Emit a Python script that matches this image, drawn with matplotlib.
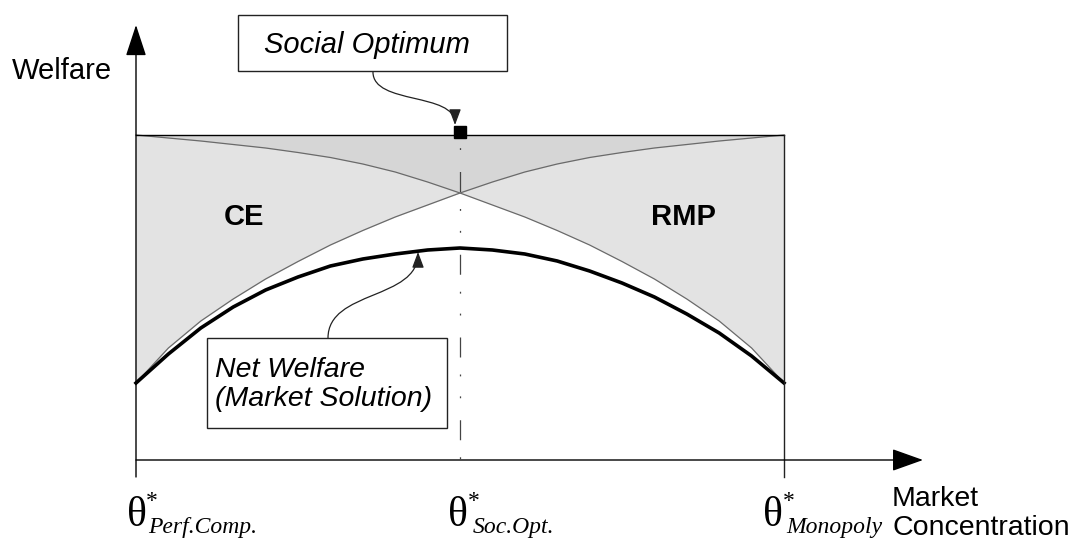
import matplotlib.pyplot as plt
import numpy as np
from matplotlib.patches import FancyArrowPatch, Rectangle
from matplotlib.path import Path

plt.rcParams['font.family'] = 'Liberation Sans'

# market concentration (0 = perfect competition, 1 = monopoly)
theta = [0.00, 0.05, 0.10, 0.15, 0.20, 0.25, 0.30, 0.35, 0.40, 0.45, 0.50,
         0.55, 0.60, 0.65, 0.70, 0.75, 0.80, 0.85, 0.90, 0.95, 1.00]
# boundary of the RMP area (falls with concentration)
rmp_curve = [3.25, 3.22, 3.19, 3.155, 3.12, 3.075, 3.025, 2.96, 2.88, 2.78, 2.67,
             2.55, 2.43, 2.295, 2.15, 1.985, 1.81, 1.61, 1.39, 1.12, 0.77]
# boundary of the CE area (rises with concentration)
ce_curve = rmp_curve[::-1]
# net welfare of the market solution
net_welfare = [0.77, 1.06, 1.32, 1.53, 1.70, 1.83, 1.94, 2.01, 2.06, 2.10, 2.12,
               2.10, 2.06, 1.99, 1.89, 1.77, 1.63, 1.46, 1.27, 1.04, 0.77]
top_welfare = 3.25

tick_pos = [0.0, 0.5, 1.0]
tick_sub = ['Perf.Comp.', 'Soc.Opt.', 'Monopoly']

fig = plt.figure(figsize=(10.76, 5.43), dpi=100)
ax = fig.add_axes([0, 0, 1, 1])
ax.set_xlim(-136 / 648, 940 / 648)
ax.set_ylim(-0.83, 4.60)
ax.axis('off')

top = np.full(len(theta), top_welfare)
ax.fill_between(theta, ce_curve, top, color='#e3e3e3', lw=0)
ax.fill_between(theta, rmp_curve, top, color='#e3e3e3', lw=0)
ax.fill_between(theta, np.maximum(ce_curve, rmp_curve), top, color='#d6d6d6', lw=0)

ax.plot(theta, ce_curve, color='#6a6a6a', lw=0.9)
ax.plot(theta, rmp_curve, color='#6a6a6a', lw=0.9)
ax.plot(theta, net_welfare, color='black', lw=2.6)
ax.plot([0, 1], [top_welfare, top_welfare], color='black', lw=1.0)

# frame verticals and social optimum marker
ax.plot([1, 1], [-0.17, top_welfare], color='#222222', lw=1.0)
ax.plot([0.5, 0.5], [top_welfare, -0.1], color='#444444', lw=0.9,
        linestyle=(37, (16, 13.6, 1.5, 16, 1.5, 17.6)))
ax.plot(0.5, top_welfare + 0.035, marker='s', ms=9, color='black')

# axes with arrow heads
ax.annotate('', xy=(0, 4.35), xytext=(0, -0.17),
            arrowprops=dict(arrowstyle='-|>,head_length=1.4,head_width=0.46',
                            mutation_scale=14, lw=1.0, color='black',
                            shrinkA=0, shrinkB=0))
ax.annotate('', xy=(1.2145, 0), xytext=(0, 0),
            arrowprops=dict(arrowstyle='-|>,head_length=1.4,head_width=0.5',
                            mutation_scale=14, lw=1.0, color='black',
                            shrinkA=0, shrinkB=0))

# labels
ax.text(-0.1914, 3.81, 'Welfare', fontsize=21, va='baseline')
ax.text(0.1659, 2.35, 'CE', fontsize=21, weight='bold', ha='center', va='baseline')
ax.text(0.8441, 2.35, 'RMP', fontsize=21, weight='bold', ha='center', va='baseline')
ax.text(1.1667, -0.46, 'Market', fontsize=20.5, va='baseline')
ax.text(1.1667, -0.75, 'Concentration', fontsize=20.5, va='baseline')

# theta* tick labels
theta_shift = [-0.014, -0.018, -0.032]
sub_shift = [0.018, 0.019, 0.003]
for pos, sub, ts, ss in zip(tick_pos, tick_sub, theta_shift, sub_shift):
    ax.text(pos + ts, -0.66, 'θ', fontsize=30, family='Liberation Serif', va='baseline')
    ax.text(pos + ts + 0.039, -0.47, '*', fontsize=17, family='Liberation Serif',
            ha='center', va='baseline')
    ax.text(pos + ss, -0.73, sub, fontsize=17, family='Liberation Serif',
            style='italic', va='baseline')

# Social Optimum callout
ax.add_patch(Rectangle((0.1574, 3.89), 0.4151, 0.56, facecolor='white',
                       edgecolor='#222222', lw=1.0))
ax.text(0.356, 4.067, 'Social Optimum', fontsize=21, style='italic',
        ha='center', va='baseline')
p = Path([(0.3657, 3.88), (0.3657, 3.55), (0.4923, 3.68), (0.4923, 3.35)],
         [Path.MOVETO, Path.CURVE4, Path.CURVE4, Path.CURVE4])
ax.add_patch(FancyArrowPatch(path=p, arrowstyle='-|>,head_length=0.8,head_width=0.3',
                             mutation_scale=12, color='#222222', lw=0.9))

# Net Welfare callout
ax.add_patch(Rectangle((0.1096, 0.32), 0.3703, 0.90, facecolor='white',
                       edgecolor='#222222', lw=1.0))
ax.text(0.1219, 0.83, 'Net Welfare', fontsize=20.5, style='italic', va='baseline')
ax.text(0.1219, 0.54, '(Market Solution)', fontsize=20.5, style='italic', va='baseline')
p = Path([(0.2963, 1.22), (0.2963, 1.70), (0.4352, 1.60), (0.4352, 2.08)],
         [Path.MOVETO, Path.CURVE4, Path.CURVE4, Path.CURVE4])
ax.add_patch(FancyArrowPatch(path=p, arrowstyle='-|>,head_length=0.8,head_width=0.3',
                             mutation_scale=12, color='#222222', lw=0.9))

fig.savefig('out.png', dpi=100)
